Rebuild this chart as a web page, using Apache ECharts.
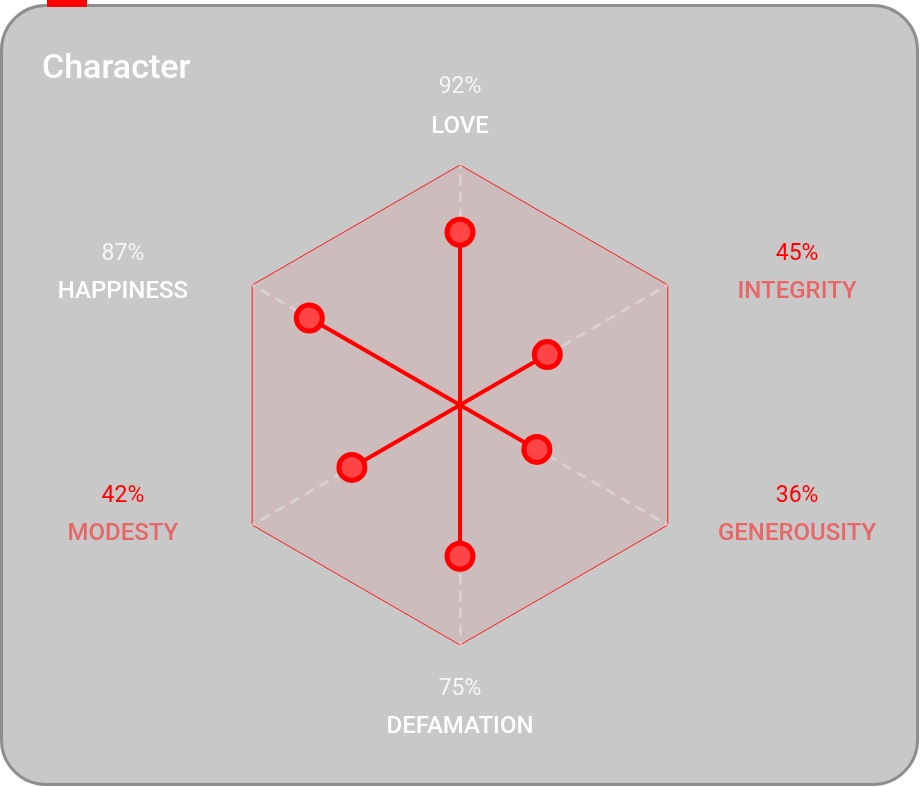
<!DOCTYPE html>
<html>
<head>
<meta charset="utf-8">
<script src="https://cdn.jsdelivr.net/npm/echarts@6/dist/echarts.min.js"></script>
<style>
html,body{margin:0;padding:0;background:#fff;width:920px;height:787px;overflow:hidden;}
#card{position:absolute;left:0;top:4px;width:919px;height:782px;box-sizing:border-box;border:3px solid #8e8e8e;border-radius:46px;background:#c8c8c8;}
#tag{position:absolute;left:47px;top:0;width:40px;height:7px;background:#ff0000;z-index:3;}
#chart{position:absolute;left:0;top:0;width:920px;height:787px;z-index:2;}
</style>
</head>
<body>
<div id="card"></div>
<div id="tag"></div>
<div id="chart"></div>
<script>
// Data (indicator order is counter-clockwise, starting at the top)
const categories = ['LOVE', 'HAPPINESS', 'MODESTY', 'DEFAMATION', 'GENEROUSITY', 'INTEGRITY'];
const percentLabels = ['92%', '87%', '42%', '75%', '36%', '45%'];
const highlighted = [false, false, true, false, true, true];
const spokeValues = [72, 72.5, 52, 63, 37, 42];
const axisAngles = [0, 60, 120, 180, 240, 300];

const chart = echarts.init(document.getElementById('chart'), null, {renderer: 'canvas'});

const CENTER = [460, 405];
const RADIUS = 240;

const indicators = categories.map((c) => ({name: c, max: 100, min: 0}));

const spokeSeries = spokeValues.map((v, i) => ({
  type: 'line',
  coordinateSystem: 'polar',
  polarIndex: 0,
  z: 5,
  silent: true,
  animation: false,
  lineStyle: {color: '#ff0000', width: 4},
  symbolSize: 26,
  itemStyle: {color: '#ff4545', borderColor: '#ff0000', borderWidth: 5},
  data: [
    {value: [0, axisAngles[i]], symbol: 'none'},
    {value: [v, axisAngles[i]], symbol: 'circle'}
  ]
}));

// label layout per axis position: [top spacer, value line height, name line height, bottom spacer]
function labelLayout(i) {
  const a = axisAngles[i];
  if (a === 0) return [0, 60, 20, 0];
  if (a === 180) return [0, 32, 44, 0];
  if (a === 120 || a === 240) return [0, 38, 38, 48];
  return [4, 38, 38, 0];
}

const rich = {};
categories.forEach((c, i) => {
  const L = labelLayout(i);
  const red = highlighted[i];
  const base = {fontFamily: 'Roboto', width: 210, align: 'center'};
  rich['t' + i] = Object.assign({fontSize: 4, lineHeight: L[0] || 1}, base);
  rich['v' + i] = Object.assign({color: red ? '#ff0000' : '#f6f6f6', fontSize: 23, fontWeight: 400, lineHeight: L[1]}, base);
  rich['n' + i] = Object.assign({color: red ? '#e86666' : '#ffffff', fontSize: 24, fontWeight: 500, lineHeight: L[2]}, base);
  rich['s' + i] = Object.assign({fontSize: 4, lineHeight: L[3] || 1}, base);
});

const option = {
  backgroundColor: 'transparent',
  animation: false,
  title: {
    text: 'Character',
    left: 37,
    top: 47,
    textStyle: {color: '#ffffff', fontFamily: 'Roboto', fontSize: 34, fontWeight: 500}
  },
  radar: {
    center: CENTER,
    radius: RADIUS,
    startAngle: 90,
    shape: 'polygon',
    splitNumber: 1,
    indicator: indicators,
    axisNameGap: 28,
    axisName: {
      formatter: function (name) {
        const i = categories.indexOf(name);
        const L = labelLayout(i);
        let s = '';
        if (L[0]) s += '{t' + i + '| }\n';
        s += '{v' + i + '|' + percentLabels[i] + '}\n{n' + i + '|' + name + '}';
        if (L[3]) s += '\n{s' + i + '| }';
        return s;
      },
      rich: rich
    },
    axisLine: {lineStyle: {color: 'rgba(255,255,255,0.3)', width: 3, type: [8, 9]}},
    splitLine: {lineStyle: {color: '#ff1a1a', width: 1}},
    splitArea: {areaStyle: {color: ['rgba(230,120,120,0.15)']}}
  },
  polar: {center: CENTER, radius: RADIUS},
  angleAxis: {
    type: 'value', min: 0, max: 360, startAngle: 90, clockwise: false,
    show: false, axisLine: {show: false}, splitLine: {show: false}, axisLabel: {show: false}, axisTick: {show: false}
  },
  radiusAxis: {
    type: 'value', min: 0, max: 100,
    show: false, axisLine: {show: false}, splitLine: {show: false}, axisLabel: {show: false}, axisTick: {show: false}
  },
  series: [
    {
      type: 'radar',
      silent: true,
      symbol: 'none',
      lineStyle: {opacity: 0},
      areaStyle: {opacity: 0},
      data: [{value: [0, 0, 0, 0, 0, 0]}]
    }
  ].concat(spokeSeries)
};

chart.setOption(option);
</script>
</body>
</html>
